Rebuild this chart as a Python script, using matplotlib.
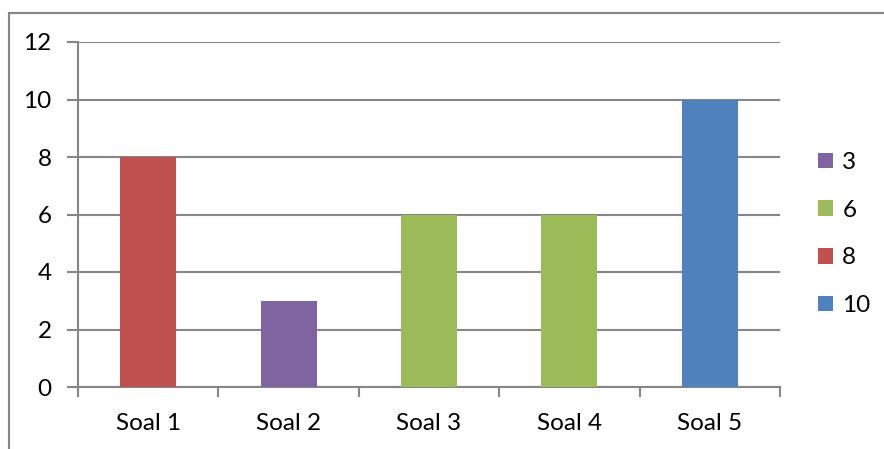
import matplotlib
matplotlib.use("Agg")
import matplotlib.pyplot as plt
from matplotlib.patches import Patch
from matplotlib.lines import Line2D

categories = ["Soal 1", "Soal 2", "Soal 3", "Soal 4", "Soal 5"]
values = [8, 3, 6, 6, 10]
legend_labels = [3, 6, 8, 10]
legend_colors = ["#8064A2", "#9BBB59", "#C0504D", "#4F81BD"]
color_for = dict(zip(legend_labels, legend_colors))
yticks = [0, 2, 4, 6, 8, 10, 12]

plt.rcParams['font.family'] = ['Lato', 'DejaVu Sans']
W, H = 884, 449
FS = 17.5
fig = plt.figure(figsize=(W / 100, H / 100), dpi=100)
ax = fig.add_axes([78 / W, 1 - 387 / H, (780 - 78) / W, (387 - 42) / H])

x = list(range(len(categories)))
ax.bar(x, values, width=0.4, color=[color_for[v] for v in values], zorder=3)
ax.set_xlim(-0.5, len(categories) - 0.5)
ax.set_ylim(0, 12)
ax.set_yticks(yticks)
ax.set_yticklabels([str(t) for t in yticks], fontsize=FS)
ax.set_xticks(x)
ax.set_xticklabels(categories, fontsize=FS)
ax.tick_params(axis='x', length=0, pad=19)
ax.tick_params(axis='y', length=8, width=1.5, color="#868686", pad=11)
# boundary ticks on the category axis
ax.set_xticks([i - 0.5 for i in range(len(categories) + 1)], minor=True)
ax.tick_params(axis='x', which='minor', length=7, width=1.5, color="#868686")
ax.grid(axis='y', color="#868686", linewidth=1.5, zorder=0)
for s in ['top', 'right']:
    ax.spines[s].set_visible(False)
for s in ['left', 'bottom']:
    ax.spines[s].set_color("#868686")
    ax.spines[s].set_linewidth(1.5)

handles = [Patch(facecolor=c, edgecolor='none') for c in legend_colors]
fig.legend(handles, [str(l) for l in legend_labels], loc='upper left',
           bbox_to_anchor=(818 / W, 1 - 152 / H), frameon=False, fontsize=FS,
           handlelength=0.6, handleheight=0.6, handletextpad=0.4,
           labelspacing=1.1, borderaxespad=0, borderpad=0)

fig.add_artist(Line2D([8.5 / W, 8.5 / W], [0, 1 - 12.5 / H], color="#868686", lw=1.5))
fig.add_artist(Line2D([8.5 / W, 1], [1 - 12.5 / H, 1 - 12.5 / H], color="#868686", lw=1.5))

fig.savefig("out.png", dpi=100)
